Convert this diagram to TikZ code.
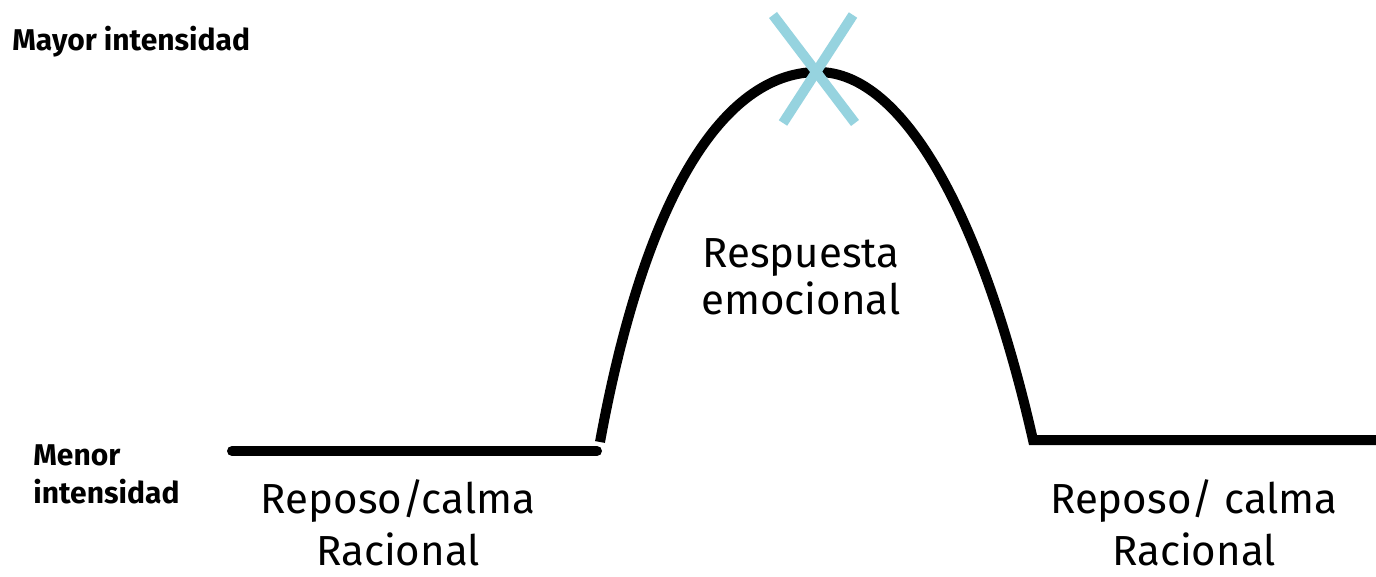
\documentclass[tikz,border=0pt]{standalone}
\usepackage{fontspec}
\setmainfont{Fira Sans}
\definecolor{xblue}{HTML}{96D3DF}
\begin{document}
\begin{tikzpicture}[x=0.5pt,y=-0.5pt,
  curve/.style={line width=5pt,black},
  cross/.style={line width=5pt,xblue},
  small/.style={font=\fontsize{15}{19}\selectfont\bfseries,anchor=west,inner sep=0pt,align=left},
  big/.style={font=\fontsize{21}{26}\selectfont,inner sep=0pt,align=center},
  mid/.style={font=\fontsize{21}{23.5}\selectfont,inner sep=0pt,align=center}]
\useasboundingbox (0,0) rectangle (1376,577);
% baseline
\draw[curve,line cap=round] (232,451) -- (597,451);
% hump
\draw[curve,line join=miter] (600,442) .. controls (648,180) and (730,72) .. (818,72)
   .. controls (905,72) and (983,220) .. (1033,440) -- (1376,440);
% cross at peak
\coordinate (x1) at (773,15); \coordinate (x2) at (855,123);
\coordinate (x3) at (853,15); \coordinate (x4) at (783,123);
\draw[cross] (x1) -- (x2);
\draw[cross] (x3) -- (x4);
% labels
\node[small] (mayor) at (12,42) {Mayor intensidad};
\node[small] (menor) at (33,474) {Menor\\intensidad};
\node[big] (repL) at (398,523) {Reposo/calma\\Racional};
\node[big] (repR) at (1194,523) {Reposo/ calma\\Racional};
\node[mid] (resp) at (801,277) {Respuesta\\emocional};
\end{tikzpicture}
\end{document}
